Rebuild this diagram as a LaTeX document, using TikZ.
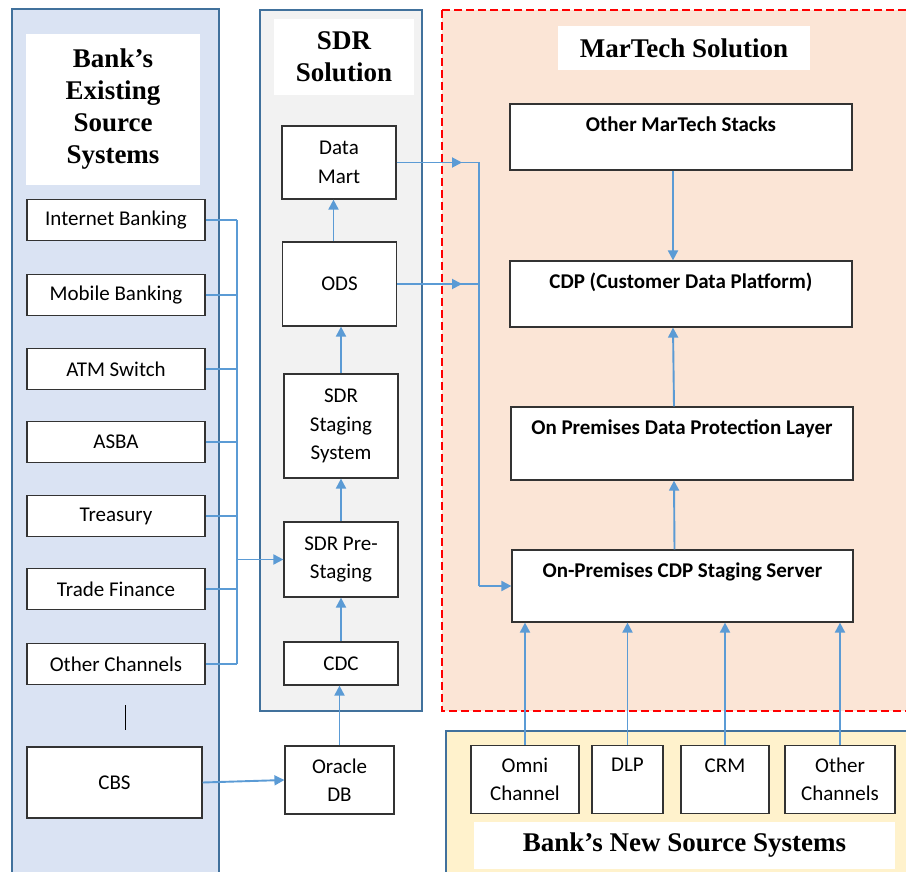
\documentclass[tikz,border=0pt]{standalone}
\usepackage{fontspec}
\setmainfont{Carlito}
\newfontfamily\titlefont{Liberation Serif}
\usetikzlibrary{positioning,arrows.meta}

\definecolor{panelblue}{HTML}{41719C}
\definecolor{arrowblue}{HTML}{5B9BD5}
\definecolor{leftfill}{HTML}{DAE3F3}
\definecolor{sdrfill}{HTML}{F2F2F2}
\definecolor{mtfill}{HTML}{FBE5D6}
\definecolor{newfill}{HTML}{FFF2CC}

\tikzset{
  panel/.style={draw=panelblue, line width=1.6pt},
  title/.style={fill=white, inner sep=0pt, align=center,
    font=\titlefont\bfseries\fontsize{27}{32}\selectfont},
  sysbox/.style={draw=black!80, fill=white, line width=1.2pt, inner sep=0pt,
    align=center, font=\fontsize{21}{28.5}\selectfont},
  line/.style={draw=arrowblue, line width=1.9pt},
  flow/.style={line, -{Triangle[length=10pt,width=10pt]}}
}

\begin{document}
\begin{tikzpicture}[x=1pt, y=-1pt]
  \clip (0,0) rectangle (906,872);

  % containers
  \draw[panel, fill=leftfill] (12,9) rectangle (219,885);
  \draw[panel, fill=sdrfill] (260,10) rectangle (422,711);
  \draw[red, fill=mtfill, line width=1.6pt, dash pattern=on 8pt off 4pt] (442,10) rectangle (915,711);
  \draw[panel, fill=newfill] (446,731) rectangle (915,885);

  % titles
  \node[title, minimum width=174pt, minimum height=151pt] (tleft) at (113,109.5) {Bank’s\\Existing\\Source\\Systems};
  \node[title, minimum width=140pt, minimum height=76pt] (tsdr) at (344,57) {SDR\\Solution};
  \node[title, minimum width=252pt, minimum height=44pt] (tmt) at (684,48) {MarTech Solution};
  \node[title, minimum width=421pt, minimum height=47pt] (tnew) at (684.5,845.5) {Bank’s New Source Systems};

  % existing source systems
  \foreach \n/\y/\t in {ib/220/Internet Banking, mb/295/Mobile Banking, atm/369/ATM Switch,
      asba/442/ASBA, tre/516/Treasury, tf/589/Trade Finance, och/664/Other Channels}
    \node[sysbox, minimum width=178pt, minimum height=41pt] (\n) at (116,\y) {\t};
  \node[sysbox, minimum width=175pt, minimum height=71pt] (cbs) at (114.5,782.5) {CBS};

  % SDR solution
  \node[sysbox, minimum width=114pt, minimum height=73pt] (dm) at (339,162.5) {Data\\Mart};
  \node[sysbox, minimum width=114pt, minimum height=84pt] (ods) at (339.5,284) {ODS};
  \node[sysbox, minimum width=114pt, minimum height=104pt] (stgsys) at (341,426) {SDR\\Staging\\System};
  \node[sysbox, minimum width=114pt, minimum height=75pt] (pre) at (341,559.5) {SDR Pre-\\Staging};
  \node[sysbox, minimum width=114pt, minimum height=43pt] (cdc) at (341,663.5) {CDC};
  \node[sysbox, minimum width=109pt, minimum height=68pt] (ora) at (339.5,780) {Oracle\\DB};

  % MarTech solution
  \node[sysbox, minimum width=342pt, minimum height=66pt,
    label={[anchor=base, yshift=-28pt, font=\bfseries\fontsize{21}{28.5}\selectfont]north:Other MarTech Stacks}] (oms) at (681,137) {};
  \node[sysbox, minimum width=342pt, minimum height=66pt,
    label={[anchor=base, yshift=-28pt, font=\bfseries\fontsize{21}{28.5}\selectfont]north:CDP (Customer Data Platform)}] (cdp) at (681,294) {};
  \node[sysbox, minimum width=342pt, minimum height=73pt,
    label={[anchor=base, yshift=-28pt, font=\bfseries\fontsize{21}{28.5}\selectfont]north:On Premises Data Protection Layer}] (prot) at (682,443.5) {};
  \node[sysbox, minimum width=341pt, minimum height=72pt,
    label={[anchor=base, yshift=-28pt, font=\bfseries\fontsize{21}{28.5}\selectfont]north:On-Premises CDP Staging Server}] (stg) at (682.5,586) {};

  % new source systems
  \node[sysbox, minimum width=108pt, minimum height=68pt] (omni) at (525,779.5) {Omni\\Channel};
  \node[sysbox, minimum width=71pt, minimum height=68pt] (dlp) at (627.5,779.5) {DLP\\\mbox{}};
  \node[sysbox, minimum width=88pt, minimum height=68pt] (crm) at (725,779.5) {CRM\\\mbox{}};
  \node[sysbox, minimum width=110pt, minimum height=68pt] (oth) at (840,779.5) {Other\\Channels};

  % left bus
  \coordinate (busL) at (237,0);
  \foreach \n in {ib,mb,atm,asba,tre,tf,och}
    \draw[line] (\n.east) -- (\n.east -| busL);
  \draw[line] (ib.east -| busL) -- (och.east -| busL);
  \draw[flow] (busL |- pre.west) -- (pre.west);
  \draw[black, line width=1pt, shorten <=20pt, shorten >=16pt] ([xshift=9pt]och.south) -- ([xshift=9pt]och.south |- cbs.north);
  \draw[flow] (cbs.east) -- (ora.west);

  % SDR chain
  \draw[flow] (ora) -- (ora |- cdc.south);
  \draw[flow] (cdc) -- (cdc |- pre.south);
  \draw[flow] (pre) -- (pre |- stgsys.south);
  \draw[flow] (stgsys) -- (stgsys |- ods.south);
  \draw[flow] ([xshift=-6pt]ods.north) -- ([xshift=-6pt]ods.north |- dm.south);

  % right bus
  \coordinate (busR) at (479,0);
  \coordinate (tipR) at (462,0);
  \draw[line] (dm.east) -- (dm.east -| busR) -- (busR |- stg.west);
  \draw[line] (ods.east) -- (ods.east -| busR);
  \draw[flow] (dm.east) -- (dm.east -| tipR);
  \draw[flow] (ods.east) -- (ods.east -| tipR);
  \draw[flow] (busR |- stg.west) -- (stg.west);

  % MarTech chain
  \draw[flow] ([xshift=-8pt]oms.south) -- ([xshift=-8pt]cdp.north);
  \draw[flow] ([xshift=-8pt]stg.north) -- ([xshift=-8pt]prot.south);
  \draw[flow] ([xshift=-8pt]prot.north) -- ([xshift=-8pt]cdp.south);
  \foreach \n in {omni,dlp,crm,oth}
    \draw[flow] (\n.north) -- (\n.north |- stg.south);
\end{tikzpicture}
\end{document}
